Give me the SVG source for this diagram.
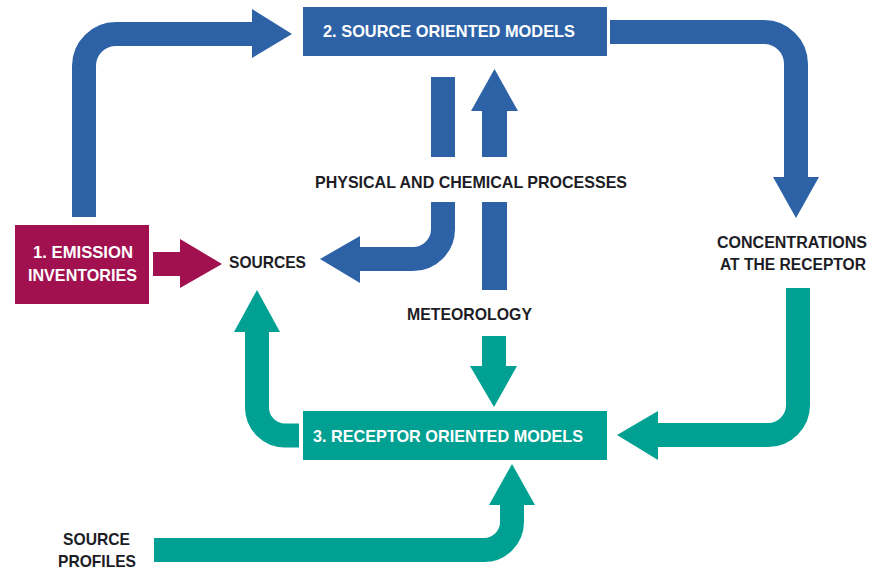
<svg xmlns="http://www.w3.org/2000/svg" width="871" height="574" viewBox="0 0 871 574">
<style>
  .bg{fill:#ffffff}
  .blue{fill:#2E62A6}
  .green{fill:#00A092}
  .purple{fill:#A1104F}
  .sb{fill:none;stroke:#2E62A6;stroke-width:24;stroke-linecap:butt}
  .sg{fill:none;stroke:#00A092;stroke-width:24;stroke-linecap:butt}
  .sp{fill:none;stroke:#A1104F;stroke-width:24;stroke-linecap:butt}
  .lbl{font-family:"Liberation Sans",Arial,sans-serif;font-weight:bold;font-size:17px;fill:#1d1d26}
  .wlbl{font-family:"Liberation Sans",Arial,sans-serif;font-weight:bold;font-size:17px;fill:#ffffff}
  .edge{font-size:15.8px;text-anchor:middle}
</style>
<rect class="bg" x="0" y="0" width="871" height="574"/>

<g id="connectors">
  <!-- emission inventories -> source oriented models -->
  <path class="sb" d="M84,217 V66 A32,32 0 0 1 116,34 H253"/>
  <polygon class="blue" points="252,9 292,34 252,58"/>
  <!-- source oriented models -> concentrations -->
  <path class="sb" d="M610,32 H764 A32,32 0 0 1 796,64 V178"/>
  <polygon class="blue" points="773,177 819,177 796,218"/>
  <!-- source oriented models -> sources (through processes) -->
  <path class="sb" d="M443,77 V157"/>
  <path class="sb" d="M443,202 V229 A30,30 0 0 1 413,259 H359"/>
  <polygon class="blue" points="360,236 320,259 360,283"/>
  <!-- meteorology -> source oriented models -->
  <path class="sb" style="stroke-width:25" d="M494.5,157 V110"/>
  <polygon class="blue" points="471,111 518,111 494.5,69"/>
  <path class="sb" style="stroke-width:25" d="M494.5,202 V290"/>
  <!-- emission inventories -> sources -->
  <path class="sp" d="M153,264 H181"/>
  <polygon class="purple" points="180,239 222,264 180,288"/>
  <!-- meteorology -> receptor oriented models -->
  <path class="sg" d="M494,336 V367"/>
  <polygon class="green" points="470,366 517,366 494,407"/>
  <!-- concentrations -> receptor oriented models -->
  <path class="sg" d="M798,288 V405 A30,30 0 0 1 768,435 H657"/>
  <polygon class="green" points="658,411 617,435 658,460"/>
  <!-- receptor oriented models -> sources -->
  <path class="sg" d="M299,435.5 H285 A28,28 0 0 1 257,407.5 V331"/>
  <polygon class="green" points="234,332 280,332 257,290"/>
  <!-- source profiles -> receptor oriented models -->
  <path class="sg" d="M154,550 H484 A28,28 0 0 0 512,522 V504"/>
  <polygon class="green" points="489,505 535,505 512,464"/>
</g>

<g id="emission-inventories">
  <rect class="purple" x="15" y="225" width="134" height="79"/>
  <text class="wlbl" x="33" y="258" textLength="100" lengthAdjust="spacingAndGlyphs">1. EMISSION</text>
  <text class="wlbl" x="28" y="281" textLength="109" lengthAdjust="spacingAndGlyphs">INVENTORIES</text>
</g>

<g id="source-oriented-models">
  <rect class="blue" x="303" y="7" width="304" height="49"/>
  <text class="wlbl" x="323" y="37" textLength="252" lengthAdjust="spacingAndGlyphs">2. SOURCE ORIENTED MODELS</text>
</g>

<g id="receptor-oriented-models">
  <rect class="green" x="303" y="411" width="304" height="49"/>
  <text class="wlbl" x="313" y="442" textLength="270" lengthAdjust="spacingAndGlyphs">3. RECEPTOR ORIENTED MODELS</text>
</g>

<g id="sources">
  <text class="lbl" x="229" y="268" textLength="77" lengthAdjust="spacingAndGlyphs">SOURCES</text>
</g>

<g id="processes">
  <text class="lbl" x="315" y="188" textLength="312" lengthAdjust="spacingAndGlyphs">PHYSICAL AND CHEMICAL PROCESSES</text>
</g>

<g id="meteorology">
  <text class="lbl" x="407" y="320" textLength="125" lengthAdjust="spacingAndGlyphs">METEOROLOGY</text>
</g>

<g id="concentrations">
  <text class="lbl edge" x="792" y="248" textLength="150" lengthAdjust="spacingAndGlyphs">CONCENTRATIONS</text>
  <text class="lbl edge" x="793" y="270" textLength="146" lengthAdjust="spacingAndGlyphs">AT THE RECEPTOR</text>
</g>

<g id="source-profiles">
  <text class="lbl" x="63" y="545" textLength="67" lengthAdjust="spacingAndGlyphs">SOURCE</text>
  <text class="lbl" x="58" y="567" textLength="78" lengthAdjust="spacingAndGlyphs">PROFILES</text>
</g>
</svg>
